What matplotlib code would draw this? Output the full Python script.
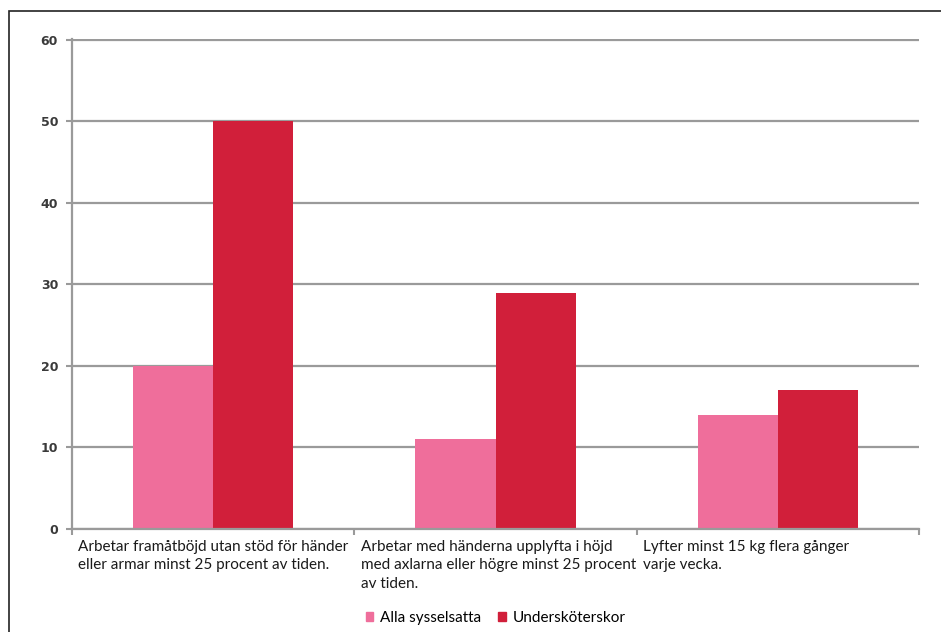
import matplotlib
matplotlib.use("Agg")
import matplotlib.pyplot as plt
from matplotlib.patches import Rectangle, Patch
import numpy as np

categories = [
    "Arbetar framåtböjd utan stöd för händer\neller armar minst 25 procent av tiden.",
    "Arbetar med händerna upplyfta i höjd\nmed axlarna eller högre minst 25 procent\nav tiden.",
    "Lyfter minst 15 kg flera gånger\nvarje vecka.",
]
series_names = ["Alla sysselsatta", "Undersköterskor"]
alla = [20, 11, 14]
usk = [50, 29, 17]
yticks = [0, 10, 20, 30, 40, 50, 60]

c_pink = "#EF6E9B"
c_red = "#D11F3A"
grid_c = "#9a9a9a"
font = ["Lato", "DejaVu Sans"]

fig = plt.figure(figsize=(9.41, 6.32), dpi=100)
ax = fig.add_axes([72/941, 1-529/632, (919-72)/941, (529-39)/632])

x = np.arange(len(categories))
w = 0.284
ax.bar(x - w/2, alla, width=w, color=c_pink, zorder=3, label=series_names[0])
ax.bar(x + w/2, usk, width=w, color=c_red, zorder=3, label=series_names[1])

ax.set_xlim(-0.5, len(categories) - 0.5)
ax.set_ylim(0, 60.12)
ax.set_yticks(yticks)
ax.set_yticklabels([str(v) for v in yticks], fontsize=9, fontweight="bold",
                   color="#3a3a3a", family=["DejaVu Sans"])
ax.yaxis.grid(True, color=grid_c, linewidth=1.6, zorder=0)
ax.tick_params(axis="y", length=4, width=1.5, color=grid_c, pad=6)

for s in ["top", "right"]:
    ax.spines[s].set_visible(False)
for s in ["left", "bottom"]:
    ax.spines[s].set_color(grid_c)
    ax.spines[s].set_linewidth(1.6)
    ax.spines[s].set_zorder(4)

ax.set_xticks(np.arange(len(categories) + 1) - 0.5)
ax.set_xticklabels([])
ax.tick_params(axis="x", length=4, width=1.5, color=grid_c)

for i, lab in enumerate(categories):
    ax.text(i - 0.5 + 0.022, -0.022, lab, transform=ax.get_xaxis_transform(),
            ha="left", va="top", fontsize=11, color="#1a1a1a", linespacing=1.4,
            family=font)

handles = [Patch(color=c_pink), Patch(color=c_red)]
fig.legend(handles, series_names, loc="center",
           bbox_to_anchor=((72 + 919) / 2 / 941, 1-618/632),
           ncol=2, frameon=False, prop={"family": font, "size": 11},
           handlelength=0.5, handleheight=0.5,
           handletextpad=0.45, columnspacing=1.1)

fig.add_artist(Rectangle((9/941, -0.01), 1.0, 1-11/632 + 0.01, transform=fig.transFigure,
                         fill=False, edgecolor="#222222", linewidth=1.2))

fig.savefig("out.png", dpi=100)
